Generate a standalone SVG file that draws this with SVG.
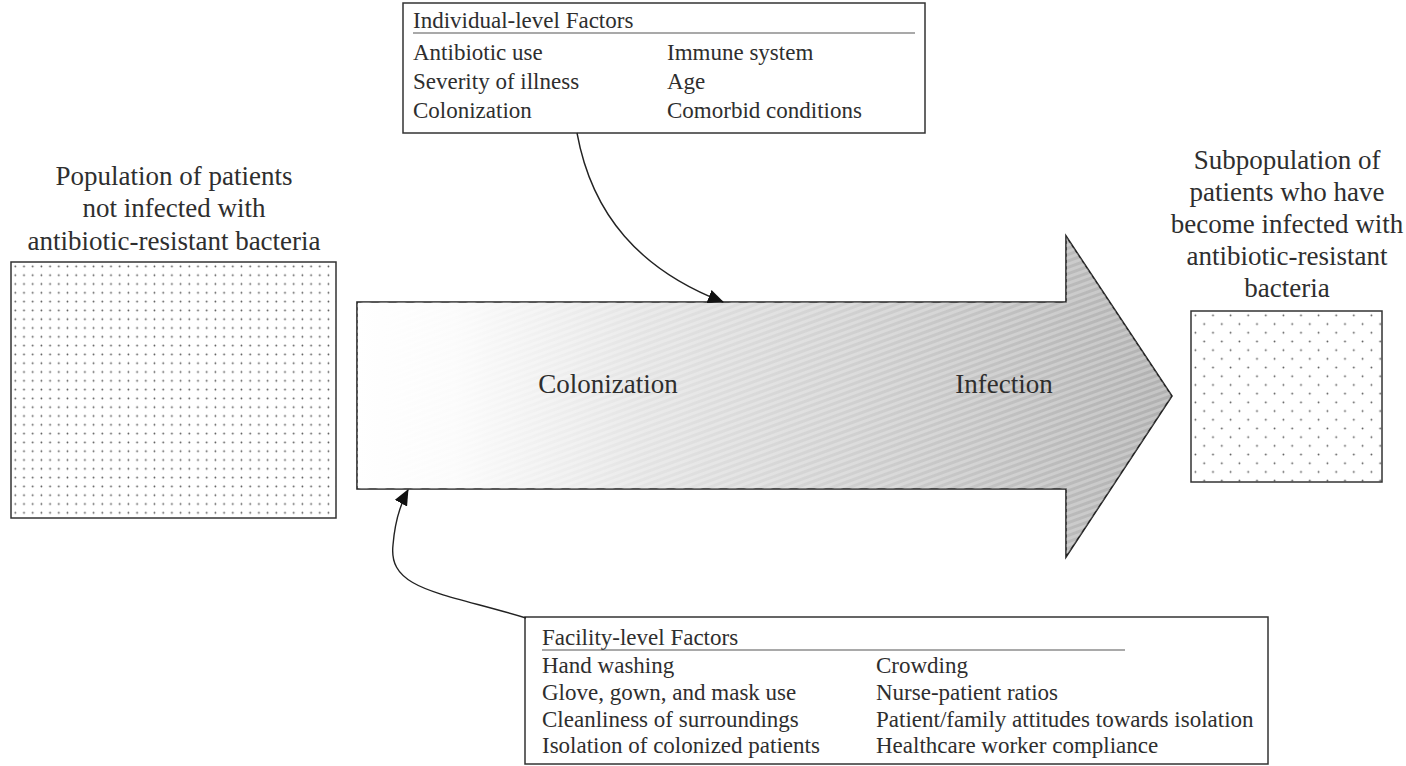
<svg xmlns="http://www.w3.org/2000/svg" width="1406" height="766" viewBox="0 0 1406 766">
  <defs>
    <style>
      .t { font-family: "Liberation Serif", "Times New Roman", serif; fill: #2e2e2e; }
      .lbl { font-size: 27px; text-anchor: middle; }
      .box { font-size: 23px; }
      .mid { font-size: 27px; text-anchor: middle; }
      .frame { fill: #fff; stroke: #333; stroke-width: 1.5; }
      .conn { fill: none; stroke: #222; stroke-width: 1.4; }
    </style>
    <pattern id="dotsL" x="11" y="262" width="8.7" height="8.8" patternUnits="userSpaceOnUse">
      <circle cx="4.3" cy="4.4" r="0.9" fill="#555"/>
    </pattern>
    <pattern id="dotsR" x="1191" y="311" width="17.6" height="17.4" patternUnits="userSpaceOnUse">
      <circle cx="4.4" cy="4.3" r="0.9" fill="#555"/>
      <circle cx="13.2" cy="13" r="0.9" fill="#555"/>
    </pattern>
    <linearGradient id="shade" x1="357" y1="0" x2="1172" y2="0" gradientUnits="userSpaceOnUse">
      <stop offset="0" stop-color="#ffffff"/>
      <stop offset="0.12" stop-color="#fbfbfb"/>
      <stop offset="0.35" stop-color="#e4e4e4"/>
      <stop offset="0.65" stop-color="#cdcdcd"/>
      <stop offset="1" stop-color="#b0b0b0"/>
    </linearGradient>
    <pattern id="grain" width="6" height="6" patternUnits="userSpaceOnUse" patternTransform="rotate(70)">
      <rect width="3" height="6" fill="#fff" opacity="0.25"/>
    </pattern>
    <marker id="ah" markerWidth="16" markerHeight="14" refX="15" refY="7" orient="auto" markerUnits="userSpaceOnUse">
      <path d="M0,0 L16,7 L0,14 Z" fill="#111"/>
    </marker>
  </defs>

  <g id="source-population">
    <text class="t lbl" x="174" y="185">Population of patients</text>
    <text class="t lbl" x="174" y="217">not infected with</text>
    <text class="t lbl" x="174" y="250">antibiotic-resistant bacteria</text>
    <rect x="11" y="262" width="325" height="256" fill="url(#dotsL)" stroke="#333" stroke-width="1.5"/>
  </g>

  <g id="progression-arrow">
    <path d="M357,302 L1066,302 L1066,236 L1172,396 L1066,557 L1066,489 L357,489 Z" fill="url(#shade)" stroke="#222" stroke-width="1.6"/>
    <path d="M357,302 L1066,302 L1066,236 L1172,396 L1066,557 L1066,489 L357,489 Z" fill="url(#grain)" stroke="none"/>
    <text class="t mid" x="608" y="393">Colonization</text>
    <text class="t mid" x="1004" y="393">Infection</text>
  </g>

  <g id="target-subpopulation">
    <text class="t lbl" x="1287" y="169">Subpopulation of</text>
    <text class="t lbl" x="1287" y="201">patients who have</text>
    <text class="t lbl" x="1287" y="233">become infected with</text>
    <text class="t lbl" x="1287" y="265">antibiotic-resistant</text>
    <text class="t lbl" x="1287" y="297">bacteria</text>
    <rect x="1191" y="311" width="191" height="171" fill="url(#dotsR)" stroke="#333" stroke-width="1.5"/>
  </g>

  <g id="individual-factors">
    <rect class="frame" x="403" y="3" width="522" height="130"/>
    <text class="t box" x="413" y="28">Individual-level Factors</text>
    <line x1="413" y1="33" x2="915" y2="33" stroke="#555" stroke-width="1.2"/>
    <text class="t box" x="413" y="60">Antibiotic use</text>
    <text class="t box" x="413" y="89">Severity of illness</text>
    <text class="t box" x="413" y="118">Colonization</text>
    <text class="t box" x="667" y="60">Immune system</text>
    <text class="t box" x="667" y="89">Age</text>
    <text class="t box" x="667" y="118">Comorbid conditions</text>
  </g>

  <g id="facility-factors">
    <rect class="frame" x="525" y="617" width="743" height="147"/>
    <text class="t box" x="542" y="645">Facility-level Factors</text>
    <line x1="542" y1="650" x2="1125" y2="650" stroke="#555" stroke-width="1.2"/>
    <text class="t box" x="542" y="673">Hand washing</text>
    <text class="t box" x="542" y="700">Glove, gown, and mask use</text>
    <text class="t box" x="542" y="727">Cleanliness of surroundings</text>
    <text class="t box" x="542" y="753">Isolation of colonized patients</text>
    <text class="t box" x="876" y="673">Crowding</text>
    <text class="t box" x="876" y="700">Nurse-patient ratios</text>
    <text class="t box" x="876" y="727">Patient/family attitudes towards isolation</text>
    <text class="t box" x="876" y="753">Healthcare worker compliance</text>
  </g>

  <g id="connectors">
    <path class="conn" d="M577,133 C592,215 640,270 723,302" marker-end="url(#ah)"/>
    <path class="conn" d="M526,618 C440,592 388,590 393,545 C395,520 401,503 408,490" marker-end="url(#ah)"/>
  </g>
</svg>
